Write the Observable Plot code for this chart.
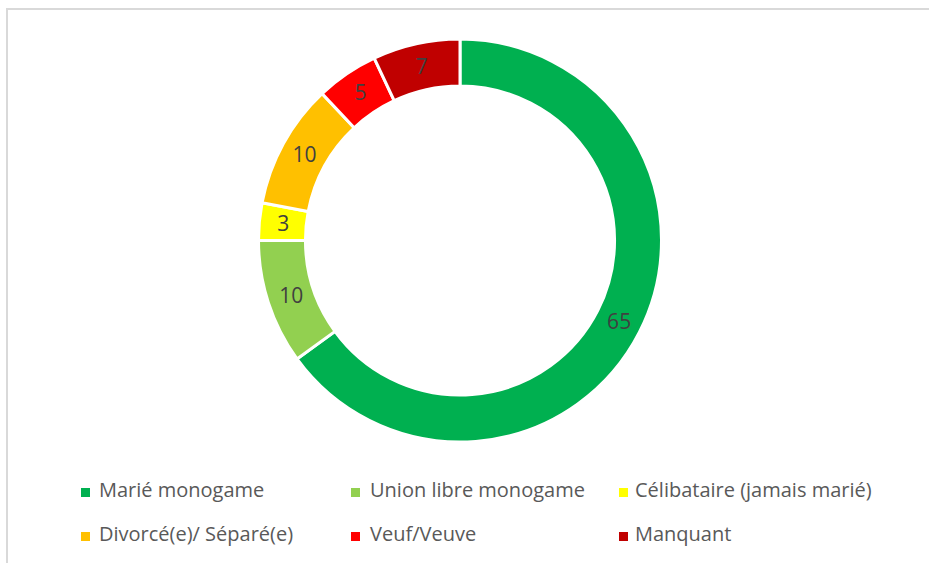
<!DOCTYPE html>
<html>
<head>
<meta charset="utf-8">
<script src="https://cdn.jsdelivr.net/npm/d3@7"></script>
<script src="https://cdn.jsdelivr.net/npm/@observablehq/plot@0.6"></script>
<style>
  html, body { margin: 0; padding: 0; background: #fff; }
  #wrap { position: relative; width: 929px; height: 563px; overflow: hidden; font-family: "Open Sans", sans-serif; }
  #frame { position: absolute; left: 6px; top: 8px; width: 1000px; height: 1000px; border-left: 2px solid #d9d9d9; border-top: 2px solid #d9d9d9; box-sizing: border-box; }
  #chart { position: absolute; left: 0; top: 0; }
  #legend { position: absolute; left: 0; top: 0; width: 929px; height: 563px; }
  .lt { position: absolute; font-size: 20px; line-height: 20px; color: #595959; white-space: nowrap; }
  .sw { position: absolute; width: 9px; height: 9px; }
</style>
</head>
<body>
<div id="wrap">
  <div id="frame"></div>
  <div id="chart"></div>
  <div id="legend"></div>
</div>
<script>
const categories = ["Marié monogame", "Union libre monogame", "Célibataire (jamais marié)", "Divorcé(e)/ Séparé(e)", "Veuf/Veuve", "Manquant"];
const values = [65, 10, 3, 10, 5, 7];
const colors = ["#00B050", "#92D050", "#FFFF00", "#FFC000", "#FF0000", "#C00000"];

const innerRatio = 0.767;
const total = d3.sum(values);
let acc = 0;
const slices = categories.map((c, i) => {
  const a0 = acc / total * 2 * Math.PI;
  acc += values[i];
  const a1 = acc / total * 2 * Math.PI;
  const mid = (a0 + a1) / 2;
  const rm = (1 + innerRatio) / 2;
  return {category: c, value: values[i], color: colors[i], a0, a1,
          lx: rm * Math.sin(mid), ly: rm * Math.cos(mid)};
});

const W = 929, H = 470;
const cx = 460, cy = 240.5, R = 201.5;

const arcsMark = (index, scales) => {
  const sx = scales.x, sy = scales.y;
  const x0 = sx(0), y0 = sy(0);
  const rpx = sx(1) - sx(0);
  const g = d3.create("svg:g").attr("transform", `translate(${x0},${y0})`);
  const arc = d3.arc().innerRadius(rpx * innerRatio).outerRadius(rpx);
  g.selectAll("path").data(slices).join("path")
    .attr("d", d => arc({startAngle: d.a0, endAngle: d.a1}))
    .attr("fill", d => d.color)
    .attr("stroke", "#fff")
    .attr("stroke-width", 3)
    .attr("stroke-linejoin", "miter");
  return g.node();
};

const plot = Plot.plot({
  width: W,
  height: H,
  marginLeft: cx - R,
  marginRight: W - (cx + R),
  marginTop: cy - R,
  marginBottom: H - (cy + R),
  x: {domain: [-1, 1], axis: null},
  y: {domain: [-1, 1], axis: null},
  style: {background: "transparent", fontFamily: "'Open Sans', sans-serif"},
  marks: [
    arcsMark,
    Plot.text(slices, {x: "lx", y: "ly", text: d => String(d.value), fill: "#404040", fontSize: 21})
  ]
});
document.getElementById("chart").appendChild(plot);

// legend: [square left, text left, baseline]
const legendPos = [[81, 99, 498], [351, 370, 498], [619, 635, 498], [81, 99, 541.5], [351, 370, 541.5], [619, 635, 541.5]];
const legend = document.getElementById("legend");
categories.forEach((c, i) => {
  const [sqx, tx, base] = legendPos[i];
  const sw = document.createElement("div");
  sw.className = "sw";
  sw.style.left = sqx + "px";
  sw.style.top = (base - 10) + "px";
  sw.style.background = colors[i];
  legend.appendChild(sw);
  const t = document.createElement("div");
  t.className = "lt";
  t.style.left = tx + "px";
  t.style.top = (base - 17.8) + "px";
  t.textContent = c;
  legend.appendChild(t);
});
</script>
</body>
</html>
